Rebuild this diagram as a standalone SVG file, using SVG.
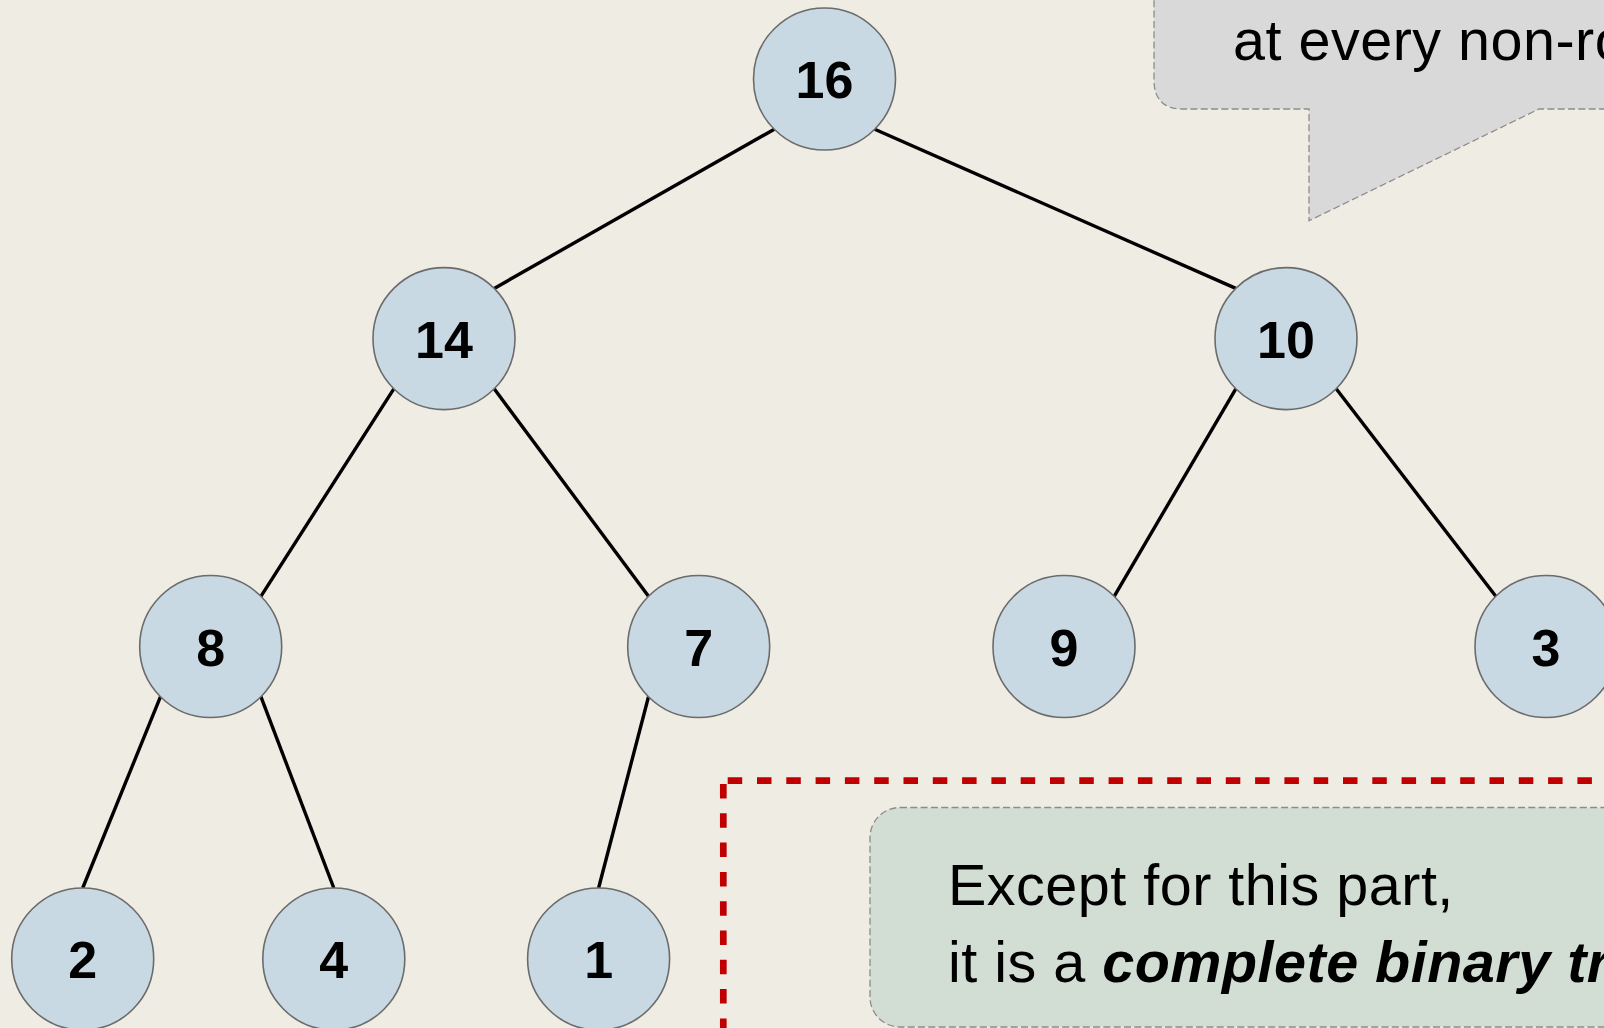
<svg xmlns="http://www.w3.org/2000/svg" width="1604" height="1028" viewBox="0 0 1604 1028">
  <style>
    .bg { fill: #efece4; }
    .edge { stroke: #000000; stroke-width: 3.4; fill: none; }
    .node circle { fill: #c9d9e3; stroke: #6b6b6b; stroke-width: 1.6; }
    .node text { font-family: "Liberation Sans", Arial, sans-serif; font-weight: bold; font-size: 52px; fill: #000000; text-anchor: middle; }
    .note { font-family: "Liberation Sans", Arial, sans-serif; font-size: 57.5px; letter-spacing: 0.5px; fill: #000000; }
    .callout { fill: #d9d9d9; stroke: #8c8c8c; stroke-width: 1.3; stroke-dasharray: 7 3.3; }
    .memo { fill: #d2ddd4; stroke: #8c8c8c; stroke-width: 1.3; stroke-dasharray: 7 3.3; }
    .frame { stroke: #c00000; stroke-width: 6.7; fill: none; stroke-dasharray: 14.5 14.8; }
  </style>

  <rect class="bg" x="0" y="0" width="1604" height="1028"/>

  <!-- speech bubble, upper right -->
  <g id="callout">
    <path class="callout" d="M1154,-10 L1154,80 Q1154,109 1183,109 L1309,109 L1309,220.7 L1539,109 L1620,109 L1620,-10 Z"/>
    <text class="note" x="1233" y="60">at every non-ro</text>
  </g>

  <!-- red dashed frame around the lower region -->
  <g id="frame">
    <line class="frame" x1="727.7" y1="780.7" x2="1620" y2="780.7"/>
    <line class="frame" x1="723.3" y1="784" x2="723.3" y2="1040"/>
  </g>

  <!-- annotation box -->
  <g id="memo">
    <rect class="memo" x="870" y="807.5" width="780" height="219.5" rx="30" ry="30"/>
    <text class="note" x="948" y="905">Except for this part,</text>
    <text class="note" x="948" y="982">it is a <tspan font-weight="bold" font-style="italic">complete binary tr</tspan></text>
  </g>

  <!-- tree edges -->
  <g id="edges">
    <line class="edge" x1="774.3" y1="129.2" x2="494.2" y2="288.4"/>
    <line class="edge" x1="874.7" y1="129.2" x2="1235.8" y2="288.4"/>
    <line class="edge" x1="393.8" y1="388.8" x2="260.9" y2="596.3"/>
    <line class="edge" x1="494.2" y1="388.8" x2="648.5" y2="596.3"/>
    <line class="edge" x1="1235.8" y1="388.8" x2="1114.2" y2="596.3"/>
    <line class="edge" x1="1336.2" y1="388.8" x2="1495.8" y2="596.3"/>
    <line class="edge" x1="160.5" y1="696.7" x2="82.7" y2="888"/>
    <line class="edge" x1="260.9" y1="696.7" x2="333.8" y2="888"/>
    <line class="edge" x1="648.5" y1="696.7" x2="598.6" y2="888"/>
  </g>

  <!-- tree nodes -->
  <g id="n16" class="node"><circle cx="824.5" cy="79" r="71"/><text x="824.5" y="98">16</text></g>
  <g id="n14" class="node"><circle cx="444" cy="338.6" r="71"/><text x="444" y="357.6">14</text></g>
  <g id="n10" class="node"><circle cx="1286" cy="338.6" r="71"/><text x="1286" y="357.6">10</text></g>
  <g id="n8" class="node"><circle cx="210.7" cy="646.5" r="71"/><text x="210.7" y="665.5">8</text></g>
  <g id="n7" class="node"><circle cx="698.7" cy="646.5" r="71"/><text x="698.7" y="665.5">7</text></g>
  <g id="n9" class="node"><circle cx="1064" cy="646.5" r="71"/><text x="1064" y="665.5">9</text></g>
  <g id="n3" class="node"><circle cx="1546" cy="646.5" r="71"/><text x="1546" y="665.5">3</text></g>
  <g id="n2" class="node"><circle cx="82.7" cy="959" r="71"/><text x="82.7" y="978">2</text></g>
  <g id="n4" class="node"><circle cx="333.8" cy="959" r="71"/><text x="333.8" y="978">4</text></g>
  <g id="n1" class="node"><circle cx="598.6" cy="959" r="71"/><text x="598.6" y="978">1</text></g>
</svg>
